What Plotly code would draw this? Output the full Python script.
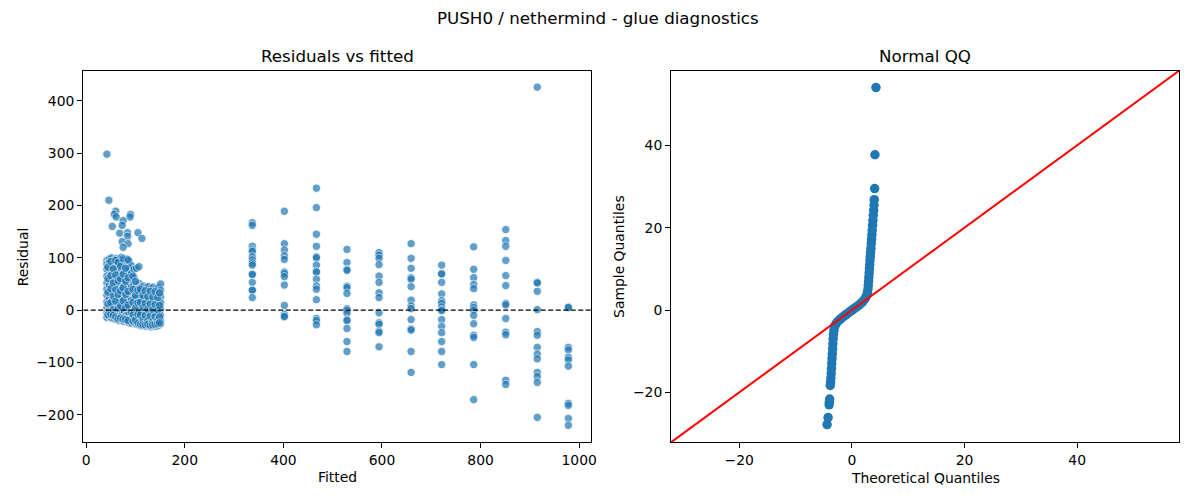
import plotly.graph_objects as go

# ---------------- data: residuals vs fitted ----------------
# dense low-fitted cluster: column positions (fitted) and residuals per column
cluster_fitted = [42, 47, 52, 57, 62, 67, 72, 77, 82, 87, 92, 97, 102, 107,
                  112, 117, 122, 127, 132, 137, 142, 147, 151]
cluster_resid = [
    [95, 88, 78, 65, 52, 40, 28, 16, 5, -6, -14],
    [98, 90, 60, 48, 35, 22, 10, -2, -12, 92],
    [100, 85, 72, 58, 44, 31, 18, 6, -5, -15],
    [96, 83, 70, 57, 45, 33, 20, 8, -4, -16],
    [99, 89, 76, 63, 50, 37, 25, 12, 0, -11, -18],
    [97, 86, 74, 61, 48, 35, 23, 11, -3, -14, -20],
    [101, 91, 79, 66, 53, 41, 29, 15, 3, -9, -19],
    [95, 84, 71, 58, 46, 34, 21, 9, -2, -13, -22],
    [98, 87, 75, 64, 50, 38, 26, 13, 1, -10, -21],
    [93, 80, 68, 55, 43, 30, 17, 5, -7, -18, -24],
    [85, 70, 57, 44, 32, 20, 7, -5, -16, -25],
    [78, 62, 48, 35, 22, 10, -3, -14, -24],
    [80, 47, 36, 24, 12, 0, -11, -22, -27],
    [83, 51, 42, 30, 18, 6, -6, -17, -28],
    [44, 33, 21, 9, -3, -14, -25, -30],
    [46, 35, 23, 11, -1, -12, -23, -29],
    [43, 31, 19, 7, -5, -16, -26, -31],
    [45, 34, 22, 10, -2, -13, -24, -30],
    [42, 30, 18, 6, -6, -17, -27, -32],
    [44, 32, 20, 8, -4, -15, -25, -30],
    [41, 29, 17, 5, -7, -18, -26, -31],
    [43, 31, 19, 7, -5, -16, -24, -29],
    [50, 38, 26, 14, 2, -10, -20, -26],
]
# extra overlapping points in the cluster (offset columns)
cluster2_fitted = [44, 50, 55, 60, 65, 70, 75, 80, 85, 95, 100, 105, 110, 115,
                   120, 125, 130, 135, 140, 145, 149]
cluster2_resid = [
    [60, 34, 12, -9, 82],
    [93, 66, 41, 14, -8],
    [79, 52, 27, 1, -10],
    [95, 67, 39, 17, -13],
    [91, 56, 30, 4, -16],
    [84, 60, 37, 8, -15],
    [98, 69, 43, 18, -17],
    [80, 55, 30, 5, -18],
    [96, 62, 36, 10, -20],
    [65, 40, 15, -9, -21],
    [55, 28, 4, -19],
    [38, 14, -8, -25],
    [40, 15, -9, -27],
    [28, 5, -18, -28],
    [37, 13, -10, -28],
    [26, 2, -20, -27],
    [36, 12, -11, -29],
    [25, 1, -21, -28],
    [35, 11, -12, -27],
    [24, 0, -20, -26],
    [33, 9, -13, -24],
]
# isolated high points above the cluster
outlier_fitted = [42, 46, 60, 57, 61, 90, 89, 75, 53, 73, 68, 84, 84, 105, 113, 73, 85, 75]
outlier_resid = [298, 210, 189, 183, 178, 183, 178, 171, 160, 162, 147, 148, 141, 148, 137, 131, 127, 120]

# higher fitted columns
column_fitted = [337, 402, 467, 529, 594, 659, 721, 786, 851, 915, 978]
column_resid = [
    [167, 162, 122, 115, 112, 102, 96, 90, 86, 69, 68, 53, 38, 38, 24],
    [189, 127, 115, 104, 97, 73, 70, 64, 48, 9, -8, -13, -12],
    [233, 196, 145, 122, 102, 100, 86, 73, 73, 59, 46, 40, 20, -16, -20, -28],
    [116, 91, 78, 76, 46, 43, 32, 3, 0, -6, -18, -20, -35, -60, -79],
    [110, 105, 99, 87, 65, 53, 33, 24, -5, -24, -27, -40, -43, -70],
    [127, 99, 80, 62, 59, 45, 19, 8, 3, -18, -36, -38, -79, -119],
    [86, 70, 69, 53, 31, 18, 13, 6, 1, -1, -18, -31, -43, -60, -79, -104],
    [121, 78, 62, 49, 41, 10, 5, 0, -10, -26, -48, -52, -104, -171],
    [154, 133, 122, 95, 66, 47, 13, 10, -16, -42, -47, -134, -142],
    [426, 53, 52, 36, 1, -41, -48, -71, -84, -93, -119, -127, -138, -205],
    [6, 5, -71, -76, -90, -95, -107, -178, -182, -207, -220],
]

# ---------------- data: normal QQ ----------------
qq_theoretical = [
    -4.40, -4.22, -4.03, -4.00, -3.95, -3.84, -3.78, -3.72, -3.67, -3.62,
    -3.57, -3.52, -3.47, -3.42, -3.37, -3.32, -3.26, -3.18, -3.05, -2.85,
    -2.60, -2.30, -2.00, -1.70, -1.40, -1.10, -0.80, -0.50, -0.20, 0.10,
    0.40, 0.70, 1.00, 1.30, 1.60, 1.90, 2.20, 2.45, 2.65, 2.78,
    2.86, 2.92, 2.97, 3.02, 3.07, 3.12, 3.17, 3.22, 3.27, 3.32,
    3.38, 3.44, 3.50, 3.56, 3.62, 3.68, 3.74, 3.80, 3.88, 3.93,
    3.98, 4.05, 4.10, 4.28,
]
qq_sample = [
    -27.8, -26.1, -23.0, -22.3, -21.6, -18.3, -17.5, -16.5, -15.4, -14.2,
    -13.0, -11.8, -10.6, -9.4, -8.2, -7.0, -5.9, -4.9, -4.0, -3.4,
    -2.9, -2.5, -2.15, -1.8, -1.45, -1.15, -0.85, -0.55, -0.25, 0.05,
    0.35, 0.65, 0.95, 1.25, 1.6, 2.0, 2.5, 3.0, 3.6, 4.3,
    5.1, 6.0, 7.0, 8.0, 9.0, 10.0, 11.0, 12.0, 13.0, 14.0,
    15.0, 16.1, 17.2, 18.3, 19.4, 20.6, 21.8, 23.0, 24.2, 25.5,
    26.8, 29.5, 37.7, 54.0,
]
qq_limits = [-32.1, 58.1]

left_xrange = [-6, 1024]
left_yrange = [-252.5, 457.5]
left_xticks = [0, 200, 400, 600, 800, 1000]
left_yticks = [-200, -100, 0, 100, 200, 300, 400]
right_ticks = [-20, 0, 20, 40]

# ---------------- build ----------------
fit_x, res_y = [], []
for f, rs in zip(cluster_fitted, cluster_resid):
    fit_x += [f] * len(rs)
    res_y += rs
for f, rs in zip(cluster2_fitted, cluster2_resid):
    fit_x += [f] * len(rs)
    res_y += rs
fit_x += outlier_fitted
res_y += outlier_resid
for f, rs in zip(column_fitted, column_resid):
    fit_x += [f] * len(rs)
    res_y += rs

BLUE = "#1f77b4"
FONT = "DejaVu Sans"

fig = go.Figure()
fig.add_trace(go.Scatter(
    x=fit_x, y=res_y, mode="markers", xaxis="x", yaxis="y",
    marker=dict(size=8.3, color=BLUE, opacity=0.7, line=dict(color="white", width=0.8)),
    showlegend=False, hoverinfo="skip"))
fig.add_trace(go.Scatter(
    x=left_xrange, y=[0, 0], mode="lines", xaxis="x", yaxis="y",
    line=dict(color="black", width=1.2, dash="5px,2.5px"),
    showlegend=False, hoverinfo="skip"))
fig.add_trace(go.Scatter(
    x=qq_theoretical, y=qq_sample, mode="markers", xaxis="x2", yaxis="y2",
    marker=dict(size=9.5, color=BLUE),
    showlegend=False, hoverinfo="skip"))
fig.add_trace(go.Scatter(
    x=qq_limits, y=qq_limits, mode="lines", xaxis="x2", yaxis="y2",
    line=dict(color="red", width=2),
    showlegend=False, hoverinfo="skip"))

W, H = 1200, 500
L1, R1 = 82.7, 593.5
L2, R2 = 674.0, 1185.0
TOP, BOT = 70.7, 442.3

axis_common = dict(showline=True, mirror=True, linecolor="black", linewidth=1.1,
                   ticks="outside", ticklen=5, tickwidth=1.1, tickcolor="black",
                   showgrid=False, zeroline=False,
                   tickfont=dict(family=FONT, size=13.9, color="black"))

fig.update_layout(
    width=W, height=H, margin=dict(l=0, r=0, t=0, b=0),
    plot_bgcolor="white", paper_bgcolor="white",
    font=dict(family=FONT, color="black"),
    xaxis=dict(domain=[L1 / W, R1 / W], range=left_xrange, tickvals=left_xticks,
               anchor="y", **axis_common),
    yaxis=dict(domain=[1 - BOT / H, 1 - TOP / H], range=left_yrange, tickvals=left_yticks,
               anchor="x", **axis_common),
    xaxis2=dict(domain=[L2 / W, R2 / W], range=qq_limits, tickvals=right_ticks,
                anchor="y2", **axis_common),
    yaxis2=dict(domain=[1 - BOT / H, 1 - TOP / H], range=qq_limits, tickvals=right_ticks,
                anchor="x2", **axis_common),
)

def ann(text, x, y, size, angle=0):
    fig.add_annotation(text=text, x=x / W, y=1 - y / H, xref="paper", yref="paper",
                       showarrow=False, textangle=angle, xanchor="center", yanchor="middle",
                       font=dict(family=FONT, size=size, color="black"))

ann("PUSH0 / nethermind - glue diagnostics", 600, 18, 16.7)
ann("Residuals vs fitted", (L1 + R1) / 2, 56, 16.7)
ann("Normal QQ", (L2 + R2) / 2, 56, 16.7)
ann("Fitted", (L1 + R1) / 2, 477, 13.9)
ann("Residual", 22, (TOP + BOT) / 2, 13.9, -90)
ann("Theoretical Quantiles", (L2 + R2) / 2, 478, 13.9)
ann("Sample Quantiles", 621, (TOP + BOT) / 2, 13.9, -90)

fig.write_html("out.html", config={"displayModeBar": False},
               post_script="document.body.style.margin='0px';document.body.style.overflow='hidden';")
